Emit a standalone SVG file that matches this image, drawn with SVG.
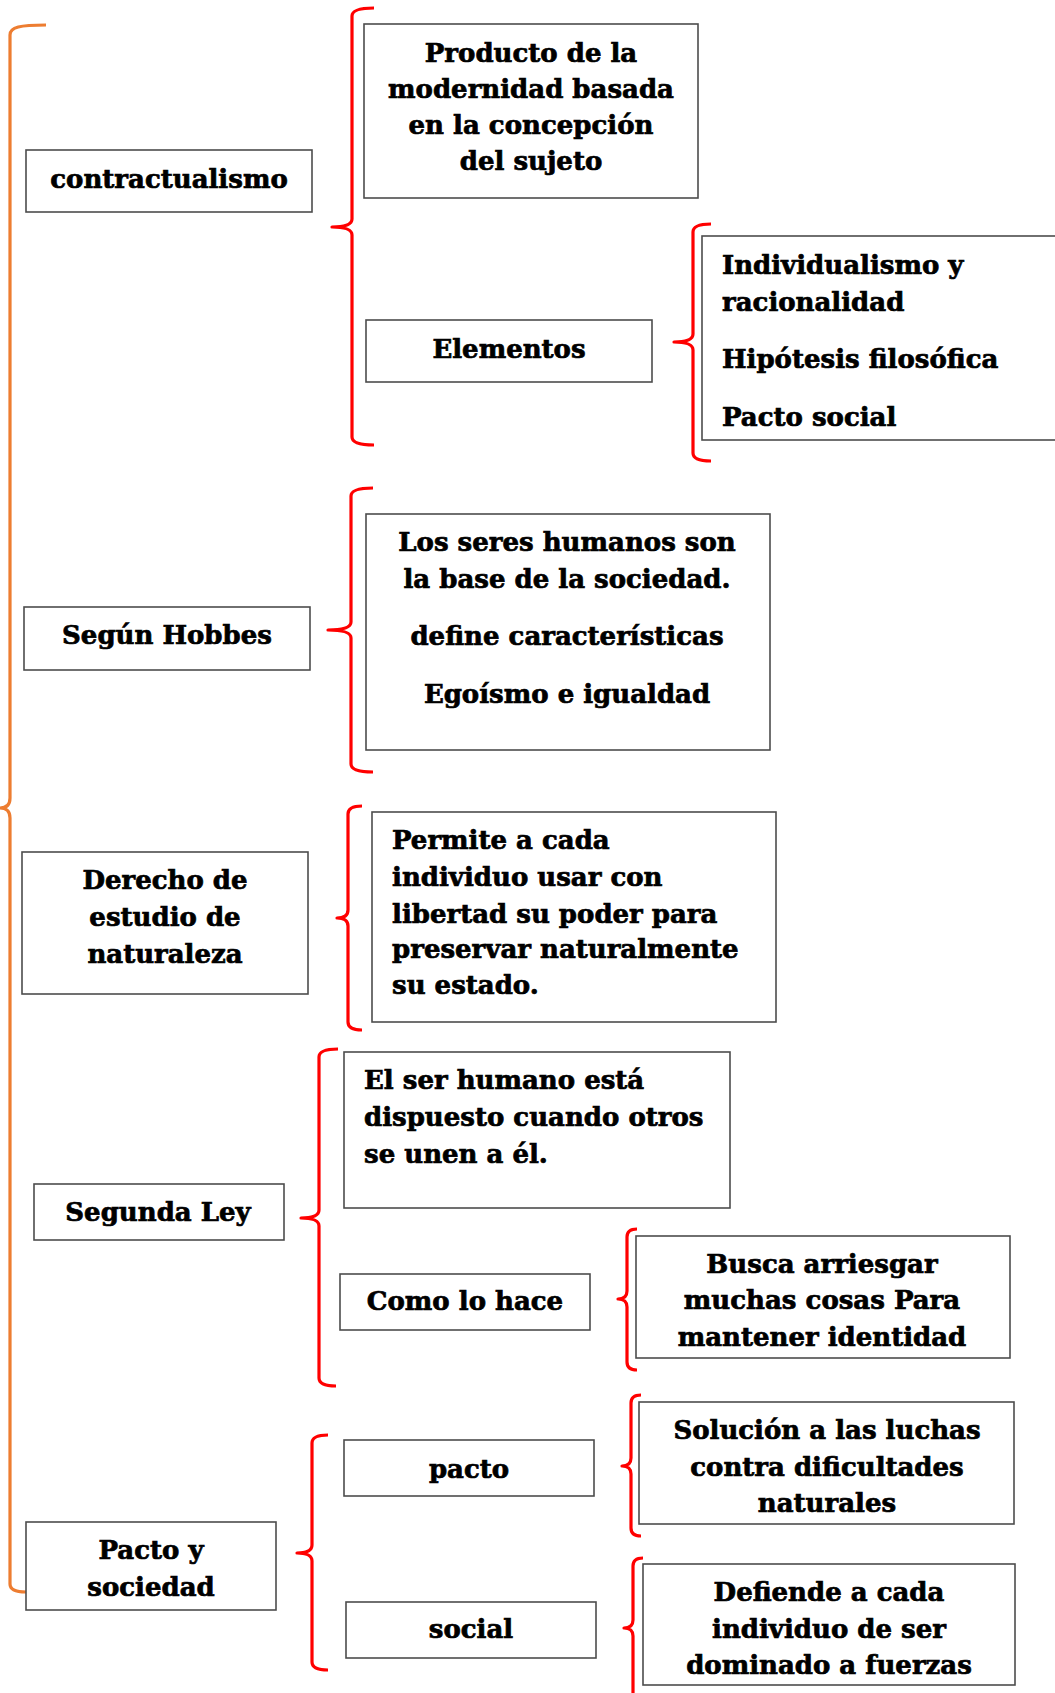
<svg xmlns="http://www.w3.org/2000/svg" width="1055" height="1693" viewBox="0 0 1055 1693">
<style>
.box{fill:#fff;stroke:#4d4d4d;stroke-width:1.6}
.br{fill:none;stroke:#ff0000;stroke-width:3.2;stroke-linecap:butt;stroke-linejoin:round}
.or{fill:none;stroke:#ed7d31;stroke-width:3.2}
text{font-family:"DejaVu Serif","Liberation Serif",serif;font-weight:bold;font-size:26px;fill:#000;stroke:#000;stroke-width:0.7}
.c{text-anchor:middle}
</style>
<rect width="1055" height="1693" fill="#fff"/>
<g id="connectors">
<path class="or" d="M46,25 C20,25 10,27 10,35 L10,798 Q10,808 0,808 Q10,808 10,818 L10,1584 Q10,1592 26,1592"/>
<path class="br" d="M374,8 Q352,8 352,16 L352,219 Q352,227 332,227 Q352,227 352,235 L352,437 Q352,445 374,445"/>
<path class="br" d="M711,224 Q693,224 693,232 L693,334 Q693,342 674,342 Q693,342 693,350 L693,453 Q693,461 711,461"/>
<path class="br" d="M373,488 Q351,488 351,496 L351,622 Q351,630 328,630 Q351,630 351,638 L351,764 Q351,772 373,772"/>
<path class="br" d="M362,806 Q348,806 348,814 L348,910 Q348,918 337,918 Q348,918 348,926 L348,1022 Q348,1030 362,1030"/>
<path class="br" d="M338,1049 Q319,1049 319,1057 L319,1210 Q319,1218 301,1218 Q319,1218 319,1226 L319,1378 Q319,1386 336,1386"/>
<path class="br" d="M637,1229 Q627,1229 627,1237 L627,1291 Q627,1299 618,1299 Q627,1299 627,1307 L627,1362 Q627,1370 637,1370"/>
<path class="br" d="M328,1435 Q312,1435 312,1443 L312,1545 Q312,1553 297,1553 Q312,1553 312,1561 L312,1662 Q312,1670 328,1670"/>
<path class="br" d="M641,1395 Q631,1395 631,1403 L631,1458 Q631,1466 622,1466 Q631,1466 631,1474 L631,1528 Q631,1536 641,1536"/>
<path class="br" d="M643,1558 Q633,1558 633,1566 L633,1620 Q633,1628 624,1628 Q633,1628 633,1636 L633,1695"/>
</g>
<g id="contractualismo"><rect class="box" x="26" y="150" width="286" height="62"/><text class="c" x="169" y="188">contractualismo</text></g>
<g id="producto"><rect class="box" x="364" y="24" width="334" height="174"/>
<text class="c" x="531" y="62">Producto de la</text><text class="c" x="531" y="98">modernidad basada</text><text class="c" x="531" y="134">en la concepción</text><text class="c" x="531" y="170">del sujeto</text></g>
<g id="elementos"><rect class="box" x="366" y="320" width="286" height="62"/><text class="c" x="509" y="358">Elementos</text></g>
<g id="individualismo"><rect class="box" x="702" y="236" width="360" height="204"/>
<text x="722" y="274">Individualismo y</text><text x="722" y="311">racionalidad</text><text x="722" y="368">Hipótesis filosófica</text><text x="722" y="426">Pacto social</text></g>
<g id="hobbes"><rect class="box" x="24" y="607" width="286" height="63"/><text class="c" x="167" y="644">Según Hobbes</text></g>
<g id="seres"><rect class="box" x="366" y="514" width="404" height="236"/>
<text class="c" x="567" y="551">Los seres humanos son</text><text class="c" x="567" y="588">la base de la sociedad.</text><text class="c" x="567" y="645">define características</text><text class="c" x="567" y="703">Egoísmo e igualdad</text></g>
<g id="derecho"><rect class="box" x="22" y="852" width="286" height="142"/>
<text class="c" x="165" y="889">Derecho de</text><text class="c" x="165" y="926">estudio de</text><text class="c" x="165" y="963">naturaleza</text></g>
<g id="permite"><rect class="box" x="372" y="812" width="404" height="210"/>
<text x="392" y="849">Permite a cada</text><text x="392" y="886">individuo usar con</text><text x="392" y="923">libertad su poder para</text><text x="392" y="958">preservar naturalmente</text><text x="392" y="994">su estado.</text></g>
<g id="segunda"><rect class="box" x="34" y="1184" width="250" height="56"/><text class="c" x="158" y="1221">Segunda Ley</text></g>
<g id="elser"><rect class="box" x="344" y="1052" width="386" height="156"/>
<text x="364" y="1089">El ser humano está</text><text x="364" y="1126">dispuesto cuando otros</text><text x="364" y="1163">se unen a él.</text></g>
<g id="como"><rect class="box" x="340" y="1274" width="250" height="56"/><text class="c" x="465" y="1310">Como lo hace</text></g>
<g id="busca"><rect class="box" x="636" y="1236" width="374" height="122"/>
<text class="c" x="822" y="1273">Busca arriesgar</text><text class="c" x="822" y="1309">muchas cosas Para</text><text class="c" x="822" y="1346">mantener identidad</text></g>
<g id="pactosociedad"><rect class="box" x="26" y="1522" width="250" height="88"/>
<text class="c" x="151" y="1559">Pacto y</text><text class="c" x="151" y="1596">sociedad</text></g>
<g id="pacto"><rect class="box" x="344" y="1440" width="250" height="56"/><text class="c" x="469" y="1478">pacto</text></g>
<g id="social"><rect class="box" x="346" y="1602" width="250" height="56"/><text class="c" x="471" y="1638">social</text></g>
<g id="solucion"><rect class="box" x="639" y="1402" width="375" height="122"/>
<text class="c" x="827" y="1439">Solución a las luchas</text><text class="c" x="827" y="1476">contra dificultades</text><text class="c" x="827" y="1512">naturales</text></g>
<g id="defiende"><rect class="box" x="643" y="1564" width="372" height="121"/>
<text class="c" x="829" y="1601">Defiende a cada</text><text class="c" x="829" y="1638">individuo de ser</text><text class="c" x="829" y="1674">dominado a fuerzas</text></g>
</svg>
